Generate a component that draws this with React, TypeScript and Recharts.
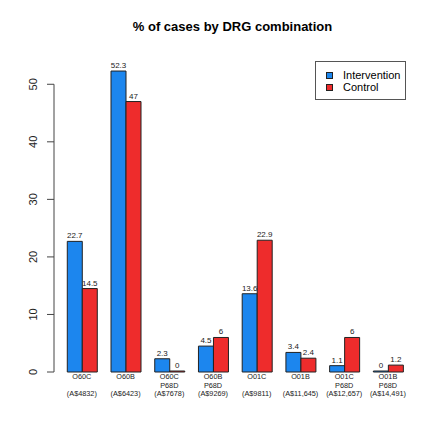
import React from "react";
import { BarChart, Bar, XAxis, YAxis, ReferenceLine, LabelList } from "recharts";

const categories = ["O60C", "O60B", "O60C P68D", "O60B P68D", "O01C", "O01B", "O01C P68D", "O01B P68D"];
const costs = ["(A$4832)", "(A$6423)", "(A$7678)", "(A$9269)", "(A$9811)", "(A$11,645)", "(A$12,657)", "(A$14,491)"];
const intervention = [22.7, 52.3, 2.3, 4.5, 13.6, 3.4, 1.1, 0];
const control = [14.5, 47, 0, 6, 22.9, 2.4, 6, 1.2];
const yTicks = [0, 10, 20, 30, 40, 50];
const seriesNames = ["Intervention", "Control"];
const seriesColors = ["#1C86EE", "#EE2C2C"];

const data = categories.map((c, i) => ({
  name: c,
  intervention: intervention[i],
  control: control[i],
}));

const FONT = "'Liberation Sans', Arial, Helvetica, sans-serif";

function XTick(props: any) {
  const { x, y, payload } = props;
  const idx = categories.indexOf(payload.value);
  const lines: string[] = String(payload.value).split(" ");
  return (
    <g>
      {lines.map((l, i) => (
        <text key={i} x={x} y={y + 7 + i * 8.7} textAnchor="middle" fontSize={7.3} fill="#222" fontFamily={FONT}>
          {l}
        </text>
      ))}
      <text x={x} y={y + 24.4} textAnchor="middle" fontSize={7.3} fill="#222" fontFamily={FONT}>
        {costs[idx]}
      </text>
    </g>
  );
}

function YTick(props: any) {
  const { x, y, payload } = props;
  const cx = x - 12;
  return (
    <text
      x={cx}
      y={y}
      transform={`rotate(-90, ${cx}, ${y})`}
      textAnchor="middle"
      dominantBaseline="central"
      fontSize={11}
      fill="#222"
      fontFamily={FONT}
    >
      {payload.value}
    </text>
  );
}

export default function App() {
  return (
    <div style={{ position: "absolute", left: 0, top: 0, width: 440, height: 440, background: "#fff", fontFamily: FONT }}>
      <div
        style={{
          position: "absolute",
          top: 19,
          left: 0,
          width: 465,
          textAlign: "center",
          fontSize: 13,
          fontWeight: "bold",
          lineHeight: "16px",
          color: "#000",
        }}
      >
        % of cases by DRG combination
      </div>
      <BarChart
        width={440}
        height={440}
        data={data}
        margin={{ top: 55.5, right: 24.2, bottom: 28, left: 0 }}
        barCategoryGap="16.67%"
        barGap={0}
      >
        <XAxis
          xAxisId="cat"
          dataKey="name"
          type="category"
          height={40}
          axisLine={false}
          tickLine={false}
          tickSize={0}
          tickMargin={0}
          interval={0}
          padding={{ left: 6, right: 6 }}
          tick={<XTick />}
        />
        <XAxis xAxisId="num" type="number" domain={[0, 1]} hide />
        <YAxis
          type="number"
          domain={[0, 55]}
          ticks={yTicks}
          width={54}
          axisLine={false}
          tickLine={{ stroke: "#444" }}
          tickSize={7}
          tickMargin={2}
          tick={<YTick />}
        />
        <ReferenceLine
          xAxisId="num"
          segment={[{ x: 0, y: 0 }, { x: 0, y: 50 }]}
          stroke="#444"
          strokeWidth={1}
          ifOverflow="visible"
        />
        <Bar
          xAxisId="cat"
          dataKey="intervention"
          name={seriesNames[0]}
          fill={seriesColors[0]}
          stroke="#222"
          strokeWidth={1}
          minPointSize={1}
          isAnimationActive={false}
        >
          <LabelList dataKey="intervention" position="top" offset={3} fontSize={8} fill="#222" fontFamily={FONT} />
        </Bar>
        <Bar
          xAxisId="cat"
          dataKey="control"
          name={seriesNames[1]}
          fill={seriesColors[1]}
          stroke="#222"
          strokeWidth={1}
          minPointSize={1}
          isAnimationActive={false}
        >
          <LabelList dataKey="control" position="top" offset={3} fontSize={8} fill="#222" fontFamily={FONT} />
        </Bar>
      </BarChart>
      <div
        style={{
          position: "absolute",
          left: 315,
          top: 61,
          width: 91,
          height: 39,
          border: "1px solid #555",
          boxSizing: "border-box",
          background: "#fff",
        }}
      >
        {seriesNames.map((n, i) => (
          <div key={n} style={{ position: "absolute", left: 0, top: 7 + i * 12.4, height: 13, width: 89 }}>
            <div
              style={{
                position: "absolute",
                left: 9.5,
                top: 2.5,
                width: 7,
                height: 7,
                background: seriesColors[i],
                border: "1px solid #222",
                boxSizing: "border-box",
              }}
            />
            <div style={{ position: "absolute", left: 27, top: 0, fontSize: 11, lineHeight: "13px", color: "#000" }}>{n}</div>
          </div>
        ))}
      </div>
    </div>
  );
}
